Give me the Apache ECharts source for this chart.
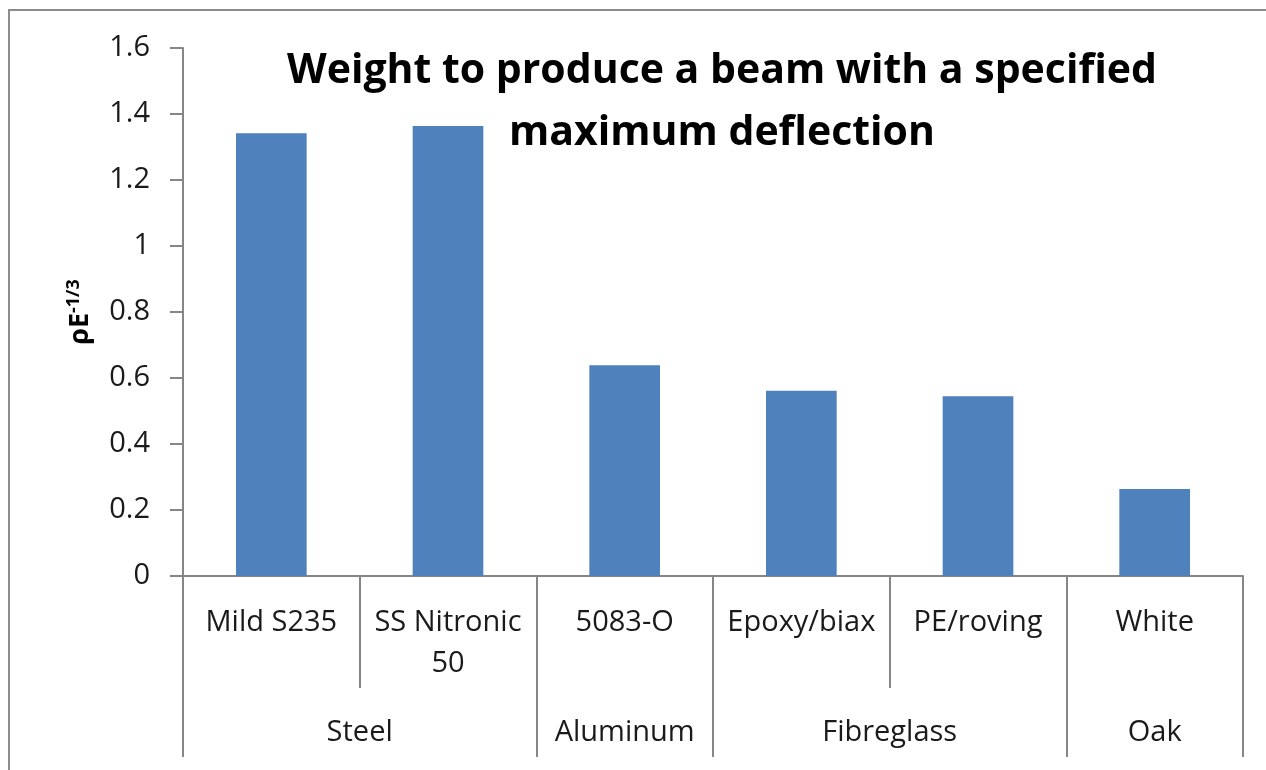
<!DOCTYPE html>
<html>
<head>
<meta charset="utf-8">
<script src="https://cdn.jsdelivr.net/npm/echarts@6/dist/echarts.min.js"></script>
<style>
html,body{margin:0;padding:0;background:#fff;}
#c{width:1266px;height:770px;}
</style>
</head>
<body>
<div id="c"></div>
<script>
const categories = ['Mild S235', 'SS Nitronic\n50', '5083-O', 'Epoxy/biax', 'PE/roving', 'White'];
const values = [1.342, 1.364, 0.639, 0.561, 0.545, 0.264];
const groups = ['Steel', 'Aluminum', 'Fibreglass', 'Oak'];
const groupSpans = [2, 1, 2, 1];
const yTicks = { min: 0, max: 1.6, interval: 0.2 };

// group boundaries and centers in category units
const groupBounds = [0];
groupSpans.forEach(s => groupBounds.push(groupBounds[groupBounds.length - 1] + s));
const groupCenters = groupSpans.map((s, i) => groupBounds[i] + s / 2);

const font = '"Open Sans", Lato, sans-serif';
const axisGray = '#868686';
const labelColor = '#1a1a1a';

const chart = echarts.init(document.getElementById('c'));
chart.setOption({
  animation: false,
  backgroundColor: '#ffffff',
  title: {
    text: 'Weight to produce a beam with a specified\nmaximum deflection',
    left: 717, top: 35, textAlign: 'center',
    textStyle: { fontFamily: font, fontWeight: 'bold', fontSize: 41, lineHeight: 62, color: '#000' }
  },
  grid: { left: 183, right: 23, top: 48, bottom: 194 },
  xAxis: [
    {
      type: 'category',
      data: categories,
      position: 'bottom',
      axisLine: { lineStyle: { color: axisGray, width: 2 } },
      axisTick: { show: true, length: 112, alignWithLabel: false, lineStyle: { color: axisGray, width: 2 } },
      axisLabel: { interval: 0, margin: 26, fontFamily: font, fontSize: 29, color: labelColor, lineHeight: 41 }
    },
    {
      type: 'value',
      min: 0, max: categories.length,
      position: 'bottom',
      axisLine: { show: false },
      splitLine: { show: false },
      axisTick: { show: true, length: 181, customValues: groupBounds, lineStyle: { color: axisGray, width: 2 } },
      axisLabel: {
        customValues: groupCenters, margin: 136, fontFamily: font, fontSize: 29, color: labelColor, lineHeight: 41,
        formatter: v => { const i = groupCenters.indexOf(v); return i >= 0 ? groups[i] : ''; }
      }
    }
  ],
  yAxis: {
    type: 'value',
    min: yTicks.min, max: yTicks.max, interval: yTicks.interval,
    name: '{a|ρE}{b|-1/3}',
    nameLocation: 'middle',
    nameGap: 88,
    nameRotate: 90,
    nameTextStyle: {
      rich: {
        a: { fontFamily: font, fontWeight: 'bold', fontSize: 27, color: '#000' },
        b: { fontFamily: font, fontWeight: 'bold', fontSize: 18, color: '#000', verticalAlign: 'top', padding: [0, 0, 12, 0] }
      }
    },
    axisLine: { show: true, lineStyle: { color: axisGray, width: 2 } },
    axisTick: { show: true, length: 13, lineStyle: { color: axisGray, width: 2 } },
    axisLabel: { margin: 33, fontFamily: font, fontSize: 29, color: labelColor },
    splitLine: { show: false }
  },
  series: [{
    type: 'bar',
    data: values,
    xAxisIndex: 0,
    barWidth: '40%',
    itemStyle: { color: '#4f81bd' }
  }],
  graphic: [{
    type: 'rect',
    shape: { x: 9, y: 10, width: 1400, height: 900 },
    style: { fill: 'none', stroke: '#8c8c8c', lineWidth: 2 },
    silent: true, z: 100
  }]
});
</script>
</body>
</html>
